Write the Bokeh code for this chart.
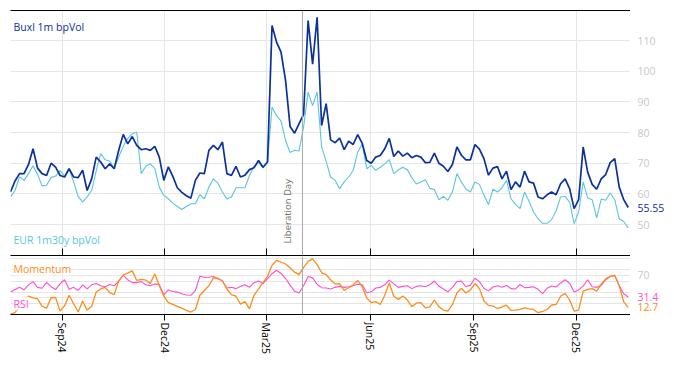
import pandas as pd
from bokeh.plotting import figure
from bokeh.layouts import column, row
from bokeh.models import (Range1d, DatetimeAxis, FixedTicker, MonthsTicker,
                          DatetimeTickFormatter, Span, Label, ColumnDataSource, Grid)
from bokeh.core.properties import value
from bokeh.embed import file_html
from bokeh.resources import INLINE

# ---------------- data ----------------
dates = pd.date_range("2024-07-17", periods=138, freq="4D")

buxl = [60.6, 64.2, 66.6, 66.6, 69.6, 74.7, 68.4, 66.6, 66.0, 70.0, 68.7, 66.0, 65.5, 68.2, 65.5,
        65.3, 67.7, 61.1, 64.9, 72.0, 70.4, 68.2, 69.8, 68.2, 74.2, 79.4, 76.3, 78.7, 75.8, 74.4,
        74.7, 74.2, 75.5, 72.0, 64.4,
        68.8, 65.7, 62.0, 60.5, 59.4, 58.6, 64.4, 66.8, 66.6, 74.2, 75.8, 74.4, 76.9, 66.6, 66.0,
        69.0, 65.5, 66.1, 67.9, 68.5, 70.9, 68.7, 70.4, 114.9, 109.5, 106.2, 97.0, 82.0, 79.8, 82.9,
        85.9, 116.5, 102.3, 117.6,
        82.3, 89.4, 77.6, 76.7, 78.2, 74.4, 77.2, 76.1, 79.3, 76.5, 70.9, 70.0, 72.0, 72.5, 74.7,
        78.1, 72.2, 74.0, 72.3, 73.3, 71.8, 72.5, 72.0, 70.2, 70.3, 73.3, 70.0, 69.0, 67.3, 69.6,
        75.3, 72.6, 71.1, 71.1, 76.1,
        74.6, 71.5, 66.1, 68.4, 68.9, 64.9, 67.4, 61.4, 63.9, 62.2, 67.4, 63.9, 63.5, 59.0, 58.4,
        59.7, 60.6, 59.7, 63.3, 64.9, 61.7, 55.2, 58.1, 75.3, 67.1, 63.1, 61.5, 64.9, 66.3, 70.2,
        71.5, 62.2, 58.1, 55.55]

eur = [59.0, 61.1, 65.5, 64.4, 66.6, 69.2, 66.3, 62.6, 62.8, 65.3, 65.8, 67.6, 65.8, 68.2, 63.9,
       59.2, 57.3, 59.0, 61.1, 67.4, 73.1, 71.1, 70.7, 68.3, 72.0, 75.5, 78.1, 79.6, 80.1, 66.6,
       69.0, 69.8, 68.2, 62.2, 59.5,
       58.4, 57.0, 55.9, 54.9, 55.9, 56.8, 56.8, 59.7, 58.4, 62.2, 64.9, 63.5, 60.6, 58.3, 59.0,
       62.0, 62.0, 62.0, 66.0, 68.9, 70.2, 68.5, 70.4, 88.3, 85.5, 83.7, 77.4, 73.5, 74.2, 74.0,
       81.8, 93.2, 88.8, 93.2,
       75.3, 70.6, 65.5, 64.4, 61.7, 63.9, 65.5, 67.7, 73.6, 76.3, 68.2, 69.3, 67.7, 68.7, 69.8,
       71.2, 66.6, 67.8, 68.7, 67.9, 65.3, 63.2, 63.9, 64.6, 61.8, 61.4, 58.1, 59.2, 57.9, 60.6,
       66.6, 63.9, 61.6, 60.6, 63.9,
       63.1, 59.6, 56.5, 61.5, 60.6, 62.0, 64.4, 58.4, 56.6, 55.2, 60.6, 57.6, 54.1, 51.9, 50.4,
       50.4, 51.6, 54.5, 59.0, 59.2, 57.3, 50.3, 54.1, 63.9, 58.7, 58.1, 52.2, 58.3, 57.9, 60.3,
       58.1, 51.9, 51.0, 48.9]

momentum = [0.5, 3.3, 14.7, 26.0, 32.8, 30.0, 28.3, 14.7, 11.3, 30.0, 30.6, 6.1, 15.8, 34.5, 19.2,
            4.4, 24.3, 7.9, 14.7, 40.2, 45.8, 48.7, 39.0, 35.6, 60.0, 70.8, 74.2, 78.2, 61.1, 62.8,
            61.7, 55.5, 73.1, 51.5, 32.8,
            21.4, 18.0, 14.7, 11.3, 7.3, 4.4, 9.0, 34.5, 43.0, 51.5, 65.7, 65.1, 60.0, 45.2, 35.6,
            32.8, 18.6, 23.1, 10.1, 34.5, 45.8, 57.1, 68.5, 88.4, 97.0, 94.1, 90.6, 83.8, 75.9, 71.4,
            84.4, 95.2, 99.7, 89.5,
            74.8, 71.4, 62.3, 54.9, 55.5, 43.0, 48.1, 53.2, 61.1, 49.8, 29.4, 21.4, 23.1, 18.0, 34.5,
            56.6, 32.8, 27.1, 33.3, 26.0, 14.1, 20.3, 21.4, 11.8, 13.5, 26.0, 14.1, 7.9, 6.1, 17.5,
            38.5, 47.0, 38.5, 44.1, 55.5,
            46.4, 24.3, 16.4, 15.2, 10.7, 13.5, 16.9, 7.3, 7.9, 9.0, 11.8, 10.1, 9.0, 3.3, 5.6,
            9.0, 17.0, 18.0, 32.8, 37.9, 26.0, 6.1, 7.9, 41.8, 45.2, 46.4, 41.8, 54.3, 64.0, 68.5,
            70.2, 51.5, 22.5, 12.7]

rsi = [40.2, 44.7, 48.7, 44.1, 53.2, 58.9, 48.7, 47.0, 57.7, 49.8, 44.7, 54.9, 62.3, 45.2, 48.7,
       43.0, 53.2, 45.8, 53.2, 55.5, 51.5, 49.8, 53.8, 51.5, 60.0, 70.8, 62.3, 57.1, 57.1, 59.4,
       53.2, 51.5, 54.9, 53.2, 35.1,
       44.1, 41.3, 40.2, 37.3, 35.1, 34.5, 43.0, 68.5, 66.8, 66.8, 68.0, 64.0, 60.0, 47.5, 48.7,
       46.4, 50.4, 53.2, 48.7, 57.1, 60.0, 55.5, 64.5, 73.1, 79.3, 73.6, 64.5, 52.7, 41.9, 38.5,
       51.5, 68.0, 65.7, 54.3,
       48.1, 47.5, 45.8, 48.7, 50.4, 48.7, 49.8, 51.5, 54.3, 53.2, 39.0, 40.7, 47.5, 48.7, 53.2,
       61.7, 54.9, 48.7, 50.4, 51.5, 46.4, 50.4, 51.5, 49.8, 53.2, 60.0, 51.0, 45.8, 40.7, 48.7,
       58.9, 60.0, 49.8, 52.7, 65.1,
       58.9, 47.0, 42.4, 49.3, 51.5, 48.7, 52.1, 46.4, 45.8, 53.8, 48.1, 48.7, 49.8, 45.2, 37.3,
       47.0, 51.0, 49.3, 56.6, 62.3, 56.0, 40.2, 44.1, 51.0, 62.3, 49.8, 48.7, 52.1, 62.3, 68.0,
       70.2, 51.5, 37.3, 31.4]

vol_ticks = [50, 60, 70, 80, 90, 100, 110]
osc_ticks = [70]
osc_grid = [30, 70]
tick_months = [2, 5, 8, 11]          # Mar, Jun, Sep, Dec (0-based months)
event_date = "2025-04-02"
event_text = "Liberation Day"
label_buxl = "Buxl 1m bpVol"
label_eur = "EUR 1m30y bpVol"
label_mom = "Momentum"
label_rsi = "RSI"

# ---------------- style ----------------
FONT = "Open Sans"
FS = "10.5px"
DARK = "#0b319c"
LIGHT = "#5bc5df"
ORANGE = "#ff8c1a"
MAGENTA = "#ff4dd2"
GRID = "#e6e6e6"
TICKGREY = "#c8c8c8"

MAIN_W, SIDE_W = 630, 44
TOP_H, BOT_H = 256, 101
VOL_RANGE = (39.9, 119.8)
OSC_RANGE = (0, 104)

src = ColumnDataSource(dict(date=dates, buxl=buxl, eur=eur, momentum=momentum, rsi=rsi))
x_range = Range1d(dates[0], pd.Timestamp("2026-01-18"))
x0 = dates[0].timestamp() * 1000
ev = pd.Timestamp(event_date).timestamp() * 1000
vol_y = Range1d(*VOL_RANGE)
osc_y = Range1d(*OSC_RANGE)


def side_panel(height, y_range, top, bottom):
    s = figure(width=SIDE_W, height=height, x_range=Range1d(0, SIDE_W), y_range=y_range,
               output_backend="svg", toolbar_location=None, x_axis_location=None,
               y_axis_location=None, min_border_left=0, min_border_right=0,
               min_border_top=top, min_border_bottom=bottom, outline_line_color=None)
    s.grid.visible = False
    return s


def side_text(s, ys, texts, color):
    cds = ColumnDataSource(dict(x=[0] * len(ys), y=ys, t=texts))
    s.text("x", "y", text="t", source=cds, x_offset=7, text_baseline="middle",
           text_align="left", text_color=color, text_font=value(FONT),
           text_font_size=value(FS))


# ---------------- top panel ----------------
top = figure(width=MAIN_W, height=TOP_H, x_axis_type="datetime", x_range=x_range,
             y_range=vol_y, output_backend="svg", toolbar_location=None,
             y_axis_location=None, min_border_left=10, min_border_right=0,
             min_border_top=10, min_border_bottom=1, outline_line_color=None)

ax = top.xaxis[0]
ax.ticker = MonthsTicker(months=tick_months)
ax.major_tick_in = 7
ax.major_tick_out = 0
ax.minor_tick_in = 0
ax.minor_tick_out = 0
ax.major_label_text_font_size = "0px"
ax.major_label_text_color = None
ax.major_label_standoff = 0
ax.axis_line_color = "black"
ax.major_tick_line_color = "black"
top.xgrid.ticker = MonthsTicker(months=tick_months)
top.xgrid.grid_line_color = GRID

above = DatetimeAxis(ticker=FixedTicker(ticks=[]), major_tick_in=0, major_tick_out=0,
                     minor_tick_in=0, minor_tick_out=0, major_label_text_font_size="0px",
                     major_label_text_color=None, major_label_standoff=0,
                     axis_line_color="black")
top.add_layout(above, "above")
top.add_layout(Grid(dimension=1, ticker=FixedTicker(ticks=vol_ticks), grid_line_color=GRID))

top.line("date", "eur", source=src, line_color=LIGHT, line_width=1.1)
top.line("date", "buxl", source=src, line_color=DARK, line_width=1.7)

top.add_layout(Span(location=ev, dimension="height", line_color="#a8a8a8", line_width=1))
top.add_layout(Label(x=ev, y=VOL_RANGE[0], text=event_text, angle=1.5708, x_offset=-8,
                     y_offset=12, text_align="left", text_baseline="bottom",
                     text_color="#6e6e6e", text_font=FONT, text_font_size="9.5px"))
top.add_layout(Label(x=x0, y=VOL_RANGE[1], text=label_buxl, x_offset=3, y_offset=-9,
                     text_baseline="top", text_color=DARK, text_font=FONT, text_font_size=FS))
top.add_layout(Label(x=x0, y=VOL_RANGE[0], text=label_eur, x_offset=3, y_offset=9,
                     text_baseline="bottom", text_color=LIGHT, text_font=FONT,
                     text_font_size=FS))

top_side = side_panel(TOP_H, vol_y, 10, 1)
side_text(top_side, vol_ticks, [str(t) for t in vol_ticks], TICKGREY)
side_text(top_side, [buxl[-1]], [f"{buxl[-1]:.2f}"], DARK)

# ---------------- bottom panel ----------------
bot = figure(width=MAIN_W, height=BOT_H, x_axis_type="datetime", x_range=x_range,
             y_range=osc_y, output_backend="svg", toolbar_location=None,
             y_axis_location=None, min_border_left=10, min_border_right=0,
             min_border_top=0, min_border_bottom=40, outline_line_color=None)

bx = bot.xaxis[0]
bx.ticker = MonthsTicker(months=tick_months)
bx.formatter = DatetimeTickFormatter(months="%b%y", days="%b%y", years="%b%y")
bx.major_label_orientation = "vertical"
bx.major_tick_in = 0
bx.major_tick_out = 6
bx.minor_tick_in = 0
bx.minor_tick_out = 0
bx.major_label_standoff = 2
bx.major_label_text_font = FONT
bx.major_label_text_font_size = FS
bx.major_label_text_color = "black"
bx.axis_line_color = "black"
bx.major_tick_line_color = "black"
bot.xgrid.ticker = MonthsTicker(months=tick_months)
bot.xgrid.grid_line_color = GRID
bot.add_layout(Grid(dimension=1, ticker=FixedTicker(ticks=osc_grid), grid_line_color=GRID))

bot.line("date", "rsi", source=src, line_color=MAGENTA, line_width=1.1)
bot.line("date", "momentum", source=src, line_color=ORANGE, line_width=1.3)
bot.add_layout(Span(location=ev, dimension="height", line_color="#a8a8a8", line_width=1))

bot.add_layout(Label(x=x0, y=OSC_RANGE[1], text=label_mom, x_offset=3, y_offset=-5,
                     text_baseline="top", text_color=ORANGE, text_font=FONT,
                     text_font_size=FS, background_fill_color="white",
                     background_fill_alpha=0.85))
bot.add_layout(Label(x=x0, y=OSC_RANGE[0], text=label_rsi, x_offset=3, y_offset=4,
                     text_baseline="bottom", text_color=MAGENTA, text_font=FONT,
                     text_font_size=FS, background_fill_color="white",
                     background_fill_alpha=0.85))

bot_side = side_panel(BOT_H, osc_y, 0, 40)
side_text(bot_side, osc_ticks, [str(t) for t in osc_ticks], TICKGREY)
side_text(bot_side, [rsi[-1]], [f"{rsi[-1]:.1f}"], MAGENTA)
side_text(bot_side, [momentum[-1]], [f"{momentum[-1]:.1f}"], ORANGE)

layout = column(row(top, top_side, spacing=0), row(bot, bot_side, spacing=0), spacing=0)
open("out.html", "w").write(file_html(layout, INLINE))
